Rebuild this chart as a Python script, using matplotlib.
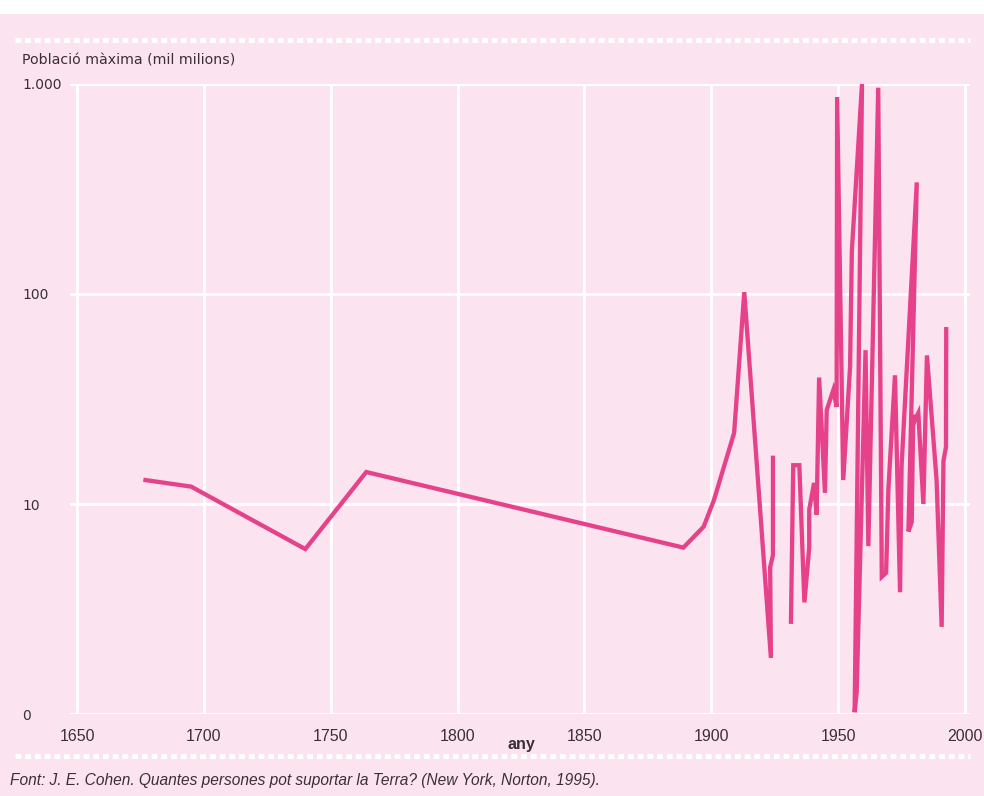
import numpy as np
import matplotlib
matplotlib.use("Agg")
import matplotlib.pyplot as plt
from matplotlib.lines import Line2D
from matplotlib.patches import Rectangle

# estimates of maximum world population (thousand millions), in drawing order
years = [1677, 1695, 1740, 1764, 1889, 1897, 1901, 1909, 1913,
         1923.5, 1923.2, 1924.3, 1924.3, np.nan,
         1931.4, 1932.3, 1934.7, 1936.7, 1938.6, 1938.6, 1940.5, 1941.5, 1942.5,
         1944.8, 1945.5, 1948.1, 1949.4, 1949.6, 1952.0, 1954.7, 1955.4, 1959.4,
         1956.5, 1957.3, 1960.8, 1961.9, 1965.8, 1967.2, 1968.9, 1969.8, 1972.4,
         1974.4, 1975.0, 1981.0, 1977.7, 1979.0, 1979.6, 1980.3, 1981.6, 1983.6,
         1985.0, 1988.8, 1990.8, 1991.5, 1992.5, 1992.6]
values = [13.0, 12.1, 6.1, 14.2, 6.2, 7.8, 10.4, 21.8, 102,
          1.85, 5.0, 5.7, 16.6, np.nan,
          2.75, 15.3, 15.3, 3.4, 6.2, 9.4, 12.6, 8.9, 40,
          11.3, 28, 34.9, 29, 867, 13.0, 45, 160, 1000,
          1.02, 1.27, 54, 6.3, 960, 4.5, 4.7, 11.7, 41,
          3.8, 15.2, 340, 7.4, 8.2, 26.5, 25.1, 27.1, 10.0,
          51, 13.0, 2.6, 16.0, 18.7, 68]

xticks = [1650, 1700, 1750, 1800, 1850, 1900, 1950, 2000]
yticks = [1, 10, 100, 1000]
ytick_labels = ["0", "10", "100", "1.000"]

pink_bg = "#fbe4f0"
line_col = "#e6428a"
text_col = "#3a3034"
narrow = ["Liberation Sans Narrow", "Liberation Sans", "DejaVu Sans"]

fig = plt.figure(figsize=(9.84, 7.96), dpi=100, facecolor=pink_bg)
fig.add_artist(Rectangle((0, 1 - 14 / 796), 1, 14 / 796, transform=fig.transFigure,
                         facecolor="white", edgecolor="none"))

ax = fig.add_axes([70 / 984, 82 / 796, 900 / 984, 630 / 796])
ax.set_facecolor(pink_bg)
ax.plot(years, values, color=line_col, linewidth=3.1, solid_joinstyle="miter")

ax.set_yscale("log")
ax.set_ylim(1, 1000)
ax.set_xlim(1647.24, 2001.97)
ax.set_yticks(yticks)
ax.set_yticklabels(ytick_labels)
ax.minorticks_off()
ax.set_xticks(xticks)
ax.set_xticklabels([str(t) for t in xticks])

ax.grid(True, color="white", linewidth=2)
ax.set_axisbelow(True)
for s in ax.spines.values():
    s.set_visible(False)

ax.tick_params(axis="both", length=0, colors=text_col)
ax.tick_params(axis="y", pad=34.5, labelsize=10)
ax.tick_params(axis="x", pad=11, labelsize=11.5)
for lbl in ax.get_yticklabels():
    lbl.set_horizontalalignment("left")
for lbl in ax.get_xticklabels():
    lbl.set_family(narrow)

fig.text(22 / 984, 1 - 61 / 796, "Població màxima (mil milions)", fontsize=10.2,
         color=text_col, va="center", ha="left")
fig.text(521 / 984, 1 - 744 / 796, "any", fontsize=11.5, fontweight="bold",
         family=narrow, color=text_col, ha="center", va="center")
fig.text(10 / 984, 1 - 780 / 796,
         "Font: J. E. Cohen. Quantes persones pot suportar la Terra? (New York, Norton, 1995).",
         fontsize=11.2, style="italic", family=narrow, color=text_col, ha="left", va="center")

# dotted white separators
for yp in (40, 756):
    fig.add_artist(Line2D([15 / 984, 970 / 984], [1 - yp / 796, 1 - yp / 796],
                          transform=fig.transFigure, color="white", linewidth=3.5,
                          linestyle=(0, (1.2, 0.8))))

plt.savefig("out.png", dpi=100, facecolor=fig.get_facecolor())
